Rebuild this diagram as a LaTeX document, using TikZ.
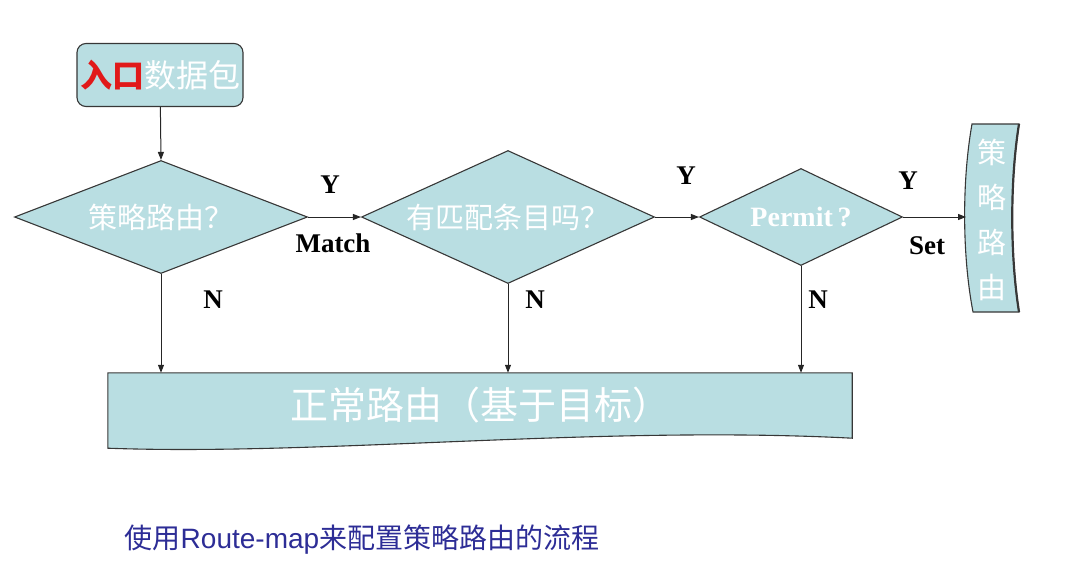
\documentclass[tikz,border=0pt]{standalone}
\usepackage{fontspec}
\setmainfont{Liberation Serif}
\newfontfamily\cjk{Noto Sans CJK SC}
\newfontfamily\arialf{Liberation Sans}
\usetikzlibrary{shapes.geometric,arrows.meta}
\pgfdeclarelayer{background}
\pgfsetlayers{background,main}
\definecolor{boxfill}{RGB}{185,222,226}
\definecolor{edgecol}{RGB}{55,55,55}
\definecolor{capblue}{RGB}{45,45,150}
\definecolor{redtxt}{RGB}{225,25,25}
\begin{document}
\begin{tikzpicture}[x=1pt,y=-1pt,
  shapefill/.style={fill=boxfill,draw=edgecol,line width=1.1pt},
  decision/.style={shapefill,diamond,inner sep=0pt,aspect=2.6,text=white,font=\cjk\fontsize{29}{32}\selectfont},
  flowarrow/.style={-{Triangle[length=8pt,width=6pt]},line width=1pt,draw=black!85},
  lbl/.style={font=\bfseries\fontsize{27}{30}\selectfont,text=black,inner sep=0pt}]
\useasboundingbox (0,0) rectangle (1078,586);

% start box
\node[shapefill,rounded corners=9pt,minimum width=166pt,minimum height=63pt,inner sep=0pt,
      font=\cjk\fontsize{32}{34}\selectfont] (start) at (160,75)
      {\textcolor{redtxt}{\bfseries 入口}\textcolor{white}{数据包}};

% decisions
\node[decision,minimum width=293pt,minimum height=113pt] (d1) at (161,217) {策略路由？};
\node[decision,minimum width=293pt,minimum height=133pt] (d2) at (508,217) {有匹配条目吗？};
\node[decision,minimum width=203pt,minimum height=97pt,
      font=\bfseries\fontsize{28}{30}\selectfont] (d3) at (801,217) {Permit\,?};

% policy route tape
\draw[shapefill] (972,124) -- (1019,124) .. controls (1010,180) and (1010,255) .. (1019,312)
   -- (973,312) .. controls (962,255) and (962,180) .. (972,124) -- cycle;
\draw[edgecol,line width=2.2pt] (1019,124) .. controls (1010,180) and (1010,255) .. (1019,312);
\node[text=white,align=center,inner sep=0pt,font=\cjk\fontsize{29}{45}\selectfont] (tape) at (992,220)
   {策\\略\\路\\由};
\coordinate (tapein) at (966,217);

% normal routing document shape
\node[minimum width=744pt,minimum height=65pt,inner sep=0pt,text=white,
      font=\cjk\fontsize{38}{42}\selectfont] (normal) at (480,405.5) {正常路由（基于目标）};
\begin{pgfonlayer}{background}
\path[shapefill] (normal.north west) -- (normal.north east) -- (normal.south east)
   .. controls (600,425) and (320,456) .. ([yshift=-10pt]normal.south west) -- cycle;
\end{pgfonlayer}

% connectors
\draw[flowarrow] (start) -- (d1.north);
\draw[flowarrow] (d1.east) -- (d2.west);
\draw[flowarrow] (d2.east) -- (d3.west);
\draw[flowarrow] (d3.east) -- (tapein);
\draw[flowarrow] (d1.south) -- (d1.south |- normal.north);
\draw[flowarrow] (d2.south) -- (d2.south |- normal.north);
\draw[flowarrow] (d3.south) -- (d3.south |- normal.north);

% labels
\node[lbl] (y1) at (330,185) {Y};
\node[lbl] (m1) at (333,243) {Match};
\node[lbl] (y2) at (686,176) {Y};
\node[lbl] (y3) at (908,181) {Y};
\node[lbl] (s3) at (927,246) {Set};
\node[lbl] (n1) at (213,300) {N};
\node[lbl] (n2) at (535,300) {N};
\node[lbl] (n3) at (818,300) {N};

% caption
\node[text=capblue,inner sep=0pt,font=\cjk\fontsize{28}{32}\selectfont] (cap) at (362,540)
   {使用{\arialf Route-map}来配置策略路由的流程};
\end{tikzpicture}
\end{document}
